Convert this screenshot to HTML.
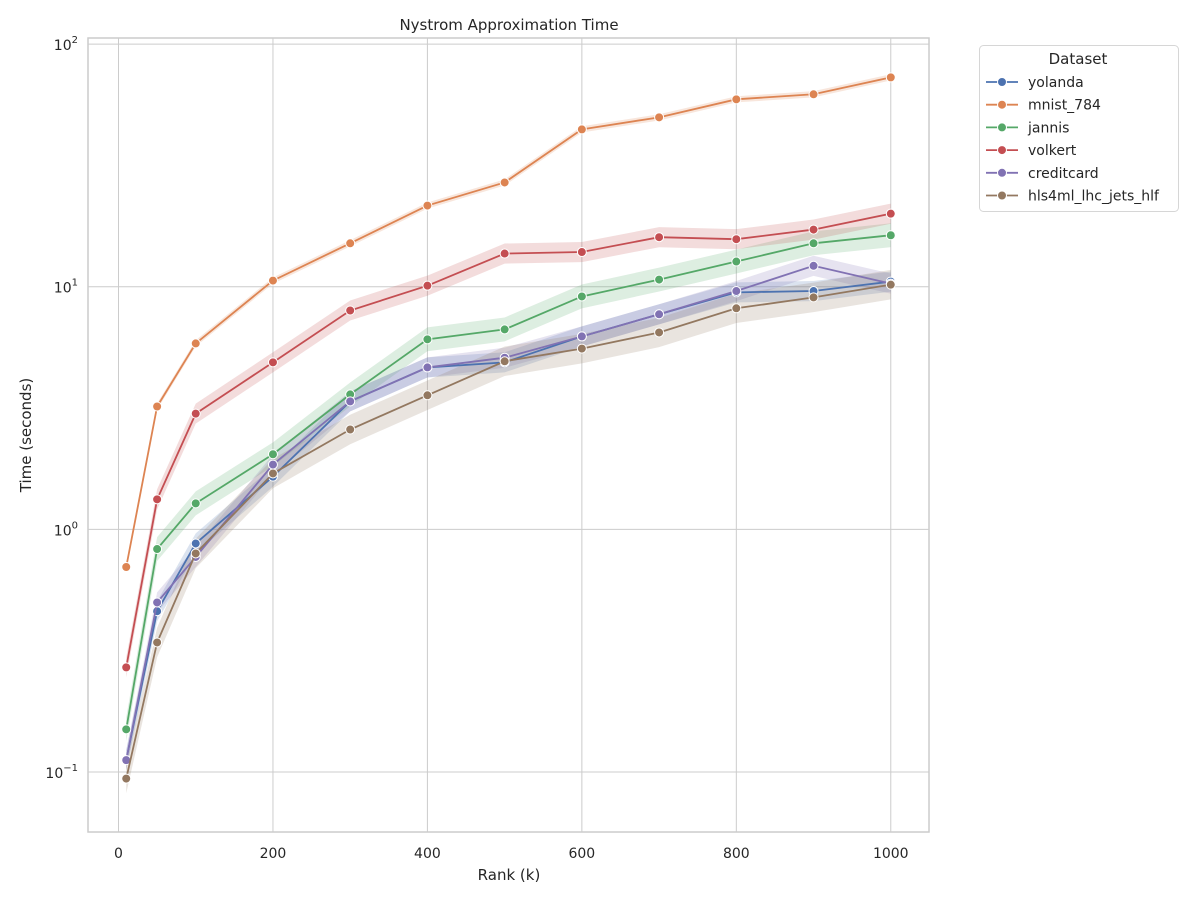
<!DOCTYPE html>
<html><head><meta charset="utf-8"><style>
body{margin:0;background:#fff;font-family:"Liberation Sans","DejaVu Sans",sans-serif;}
svg text{font-family:"DejaVu Sans","Liberation Sans",sans-serif;fill:#262626;}
</style></head><body>
<svg id="chart" width="1200" height="900" xmlns="http://www.w3.org/2000/svg">
<text x="509" y="30" font-size="15" text-anchor="middle">Nystrom Approximation Time</text>
<text x="509" y="880" font-size="15" text-anchor="middle">Rank (k)</text>
<text x="31" y="435" font-size="15" text-anchor="middle" transform="rotate(-90 31 435)">Time (seconds)</text>
<g id="grid"></g><g id="bands"></g><g id="lines"></g><g id="axes"></g><g id="legend"></g>
</svg>
<script>
const ranks=[10,50,100,200,300,400,500,600,700,800,900,1000];
const seriesNames=["yolanda","mnist_784","jannis","volkert","creditcard","hls4ml_lhc_jets_hlf"];
const colors=["#4c72b0","#dd8452","#55a868","#c44e52","#8172b3","#937860"];
const yolanda=[0.112,0.46,0.875,1.65,3.37,4.65,4.88,6.24,7.7,9.48,9.6,10.5];
const mnist=[0.70,3.21,5.84,10.6,15.1,21.6,26.9,44.5,49.9,59.2,62.1,72.9];
const jannis=[0.15,0.83,1.28,2.04,3.6,6.07,6.67,9.12,10.7,12.7,15.1,16.3];
const volkert=[0.27,1.33,3.0,4.88,7.98,10.1,13.7,13.9,16.0,15.7,17.2,20.0];
const creditcard=[0.112,0.50,0.77,1.85,3.37,4.65,5.1,6.24,7.7,9.6,12.2,10.3];
const hls=[0.094,0.342,0.796,1.70,2.58,3.57,4.93,5.56,6.48,8.15,9.04,10.2];
const bandFrac=[0.10,0.03,0.12,0.10,0.10,0.15];
const xTicks=[0,200,400,600,800,1000];
const yTicks=[-1,0,1,2];
const allSeries=[yolanda,mnist,jannis,volkert,creditcard,hls];
const L=88,R=929,T=38,B=832,X0=-39.5,X1=1049.5,Y0=-1.247,Y1=2.025;
const NS="http://www.w3.org/2000/svg";
const xs=v=>L+(v-X0)/(X1-X0)*(R-L);
const ys=v=>B-(Math.log10(v)-Y0)/(Y1-Y0)*(B-T);
function mk(tag,attrs,parent){const e=document.createElementNS(NS,tag);for(const k in attrs)e.setAttribute(k,attrs[k]);document.getElementById(parent).appendChild(e);return e;}
xTicks.forEach(t=>{
 const g=mk('line',{x1:xs(t),x2:xs(t),y1:T,y2:B,stroke:'#cccccc','stroke-width':1},'grid');
 
 
 const tx=mk('text',{x:xs(t),y:B+26,'font-size':14,'text-anchor':'middle'},'axes');
 tx.textContent=t;
 
 
});
yTicks.forEach(t=>{
 const y=ys(Math.pow(10,t));
 const g=mk('line',{x1:L,x2:R,y1:y,y2:y,stroke:'#cccccc','stroke-width':1},'grid');
 
 
 const tx=mk('text',{x:L-10,y:y+6,'font-size':14,'text-anchor':'end'},'axes');
 tx.innerHTML='10<tspan dy="-7" font-size="10">'+(t<0?'\u2212'+(-t):t)+'</tspan>';
 
 
});
const fr=mk('rect',{x:L,y:T,width:R-L,height:B-T,fill:'none',stroke:'#cccccc','stroke-width':1.5},'axes');


allSeries.forEach((s,i)=>{
 const f=bandFrac[i];
 const up=ranks.map((r,j)=>xs(r)+','+ys(s[j]*(1+f)));
 const lo=ranks.map((r,j)=>xs(r)+','+ys(s[j]/(1+f))).reverse();
 const b=mk('polygon',{points:up.concat(lo).join(' '),fill:colors[i],'fill-opacity':0.2,stroke:'none'},'bands');
 
 
 const p=mk('polyline',{points:ranks.map((r,j)=>xs(r)+','+ys(s[j])).join(' '),fill:'none',stroke:colors[i],'stroke-width':1.8},'lines');
 
 
 ranks.forEach((r,j)=>{
  const c=mk('circle',{cx:xs(r),cy:ys(s[j]),r:4.5,fill:colors[i],stroke:'#fff','stroke-width':1},'lines');
  
  
 });
});
const lb=mk('rect',{x:979.5,y:45.5,width:199,height:166,rx:4,fill:'#fff',stroke:'#d6d6d6','stroke-width':1},'legend');


const lt=mk('text',{x:1078,y:64,'font-size':15,'text-anchor':'middle'},'legend');
lt.textContent='Dataset';


seriesNames.forEach((n,i)=>{
 const y=82+i*22.7;
 const l=mk('line',{x1:986,x2:1018,y1:y,y2:y,stroke:colors[i],'stroke-width':1.8},'legend');
 
 
 const c=mk('circle',{cx:1002,cy:y,r:4.5,fill:colors[i],stroke:'#fff','stroke-width':1},'legend');
 
 
 const t=mk('text',{x:1028,y:y+5,'font-size':14},'legend');
 t.textContent=n;
 
 
});
</script>
</body></html>
